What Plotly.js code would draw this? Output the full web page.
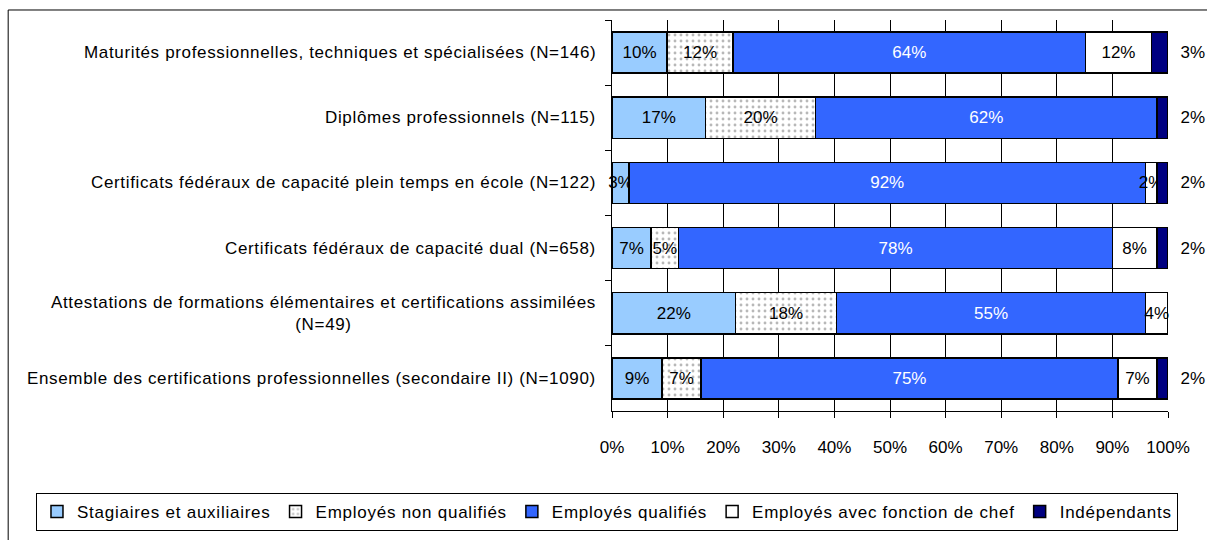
<!DOCTYPE html>
<html>
<head>
<meta charset="utf-8">
<script src="https://cdn.plot.ly/plotly-3.0.1.min.js"></script>
<style>
  html, body { margin: 0; padding: 0; background: #fff; }
  #chart { width: 1207px; height: 540px; }
  text.annotation-text { letter-spacing: 0.65px; }
  text.legendtext { letter-spacing: 0.75px; }
</style>
</head>
<body>
<div id="chart"></div>
<script>
const categories = [
  "Maturités professionnelles, techniques et spécialisées (N=146)",
  "Diplômes professionnels (N=115)",
  "Certificats fédéraux de capacité plein temps en école (N=122)",
  "Certificats fédéraux de capacité dual (N=658)",
  "Attestations de formations élémentaires et certifications assimilées<br>(N=49)",
  "Ensemble des certifications professionnelles (secondaire II) (N=1090)"
];
const seriesNames = [
  "Stagiaires et auxiliaires",
  "Employés non qualifiés",
  "Employés qualifiés",
  "Employés avec fonction de chef",
  "Indépendants"
];
const stagiaires   = [10, 17, 3, 7, 22, 9];
const nonQualifies = [12, 20, 0, 5, 18, 7];
const qualifies    = [64, 62, 92, 78, 55, 75];
const chef         = [12, 0, 2, 8, 4, 7];
const independants = [3, 2, 2, 2, 0, 2];
const xTickLabels  = ["0%","10%","20%","30%","40%","50%","60%","70%","80%","90%","100%"];
const xTickVals    = [0,10,20,30,40,50,60,70,80,90,100];

const FONT = "Liberation Sans, Arial, sans-serif";
const lbl = (v, pre) => v.map(x => x > 0 ? (pre || "") + x + "%" : "");
const line = {color: "#000", width: 1.5};

function barTrace(name, vals, color, textColor, extra) {
  return Object.assign({
    type: "bar", orientation: "h", name: name,
    x: vals, y: categories,
    text: lbl(vals), textposition: "inside", insidetextanchor: "middle",
    constraintext: "none", textangle: 0,
    textfont: {family: FONT, size: 17, color: textColor},
    marker: {color: color, line: line},
    hoverinfo: "x+name", cliponaxis: false
  }, extra || {});
}

const data = [
  barTrace(seriesNames[0], stagiaires, "#99CCFF", "#000"),
  barTrace(seriesNames[1], nonQualifies, "#FFFFFF", "#000", {
    marker: {color: "#FFFFFF", line: line,
      pattern: {shape: ".", fgcolor: "#b8b8b8", bgcolor: "#FFFFFF", size: 6, solidity: 0.18}}
  }),
  barTrace(seriesNames[2], qualifies, "#3366FF", "#FFFFFF"),
  barTrace(seriesNames[3], chef, "#FFFFFF", "#000"),
  barTrace(seriesNames[4], independants, "#000080", "#000", {
    text: lbl(independants, "\u00a0\u00a0"),
    textposition: "outside",
    outsidetextfont: {family: FONT, size: 17, color: "#000"}
  })
];

const annotations = categories.map(c => ({
  xref: "paper", yref: "y", x: 0, y: c, xanchor: "right", yanchor: "middle",
  xshift: -14, text: c, showarrow: false, align: "center",
  font: {family: FONT, size: 17, color: "#000"}
}));

const layout = {
  width: 1207, height: 540,
  margin: {l: 612, r: 39, t: 20, b: 129, pad: 0, autoexpand: false},
  paper_bgcolor: "#fff", plot_bgcolor: "#fff",
  font: {family: FONT, size: 17, color: "#000"},
  barmode: "stack", barnorm: "percent", bargap: 0.37,
  showlegend: true,
  xaxis: {
    range: [0, 100.0001], tickvals: xTickVals, ticktext: xTickLabels,
    showgrid: true, gridcolor: "#000", gridwidth: 1,
    showline: true, linecolor: "#000", linewidth: 1,
    ticks: "outside", ticklen: 6, tickcolor: "#000",
    ticklabelstandoff: 15,
    tickfont: {family: FONT, size: 17, color: "#000"},
    zeroline: false, fixedrange: true
  },
  yaxis: {
    autorange: "reversed", type: "category",
    showticklabels: false, showgrid: false,
    showline: true, linecolor: "#000", linewidth: 1,
    ticks: "outside", tickson: "boundaries", ticklen: 6, tickcolor: "#000",
    zeroline: false, fixedrange: true
  },
  legend: {
    orientation: "h", traceorder: "normal",
    x: -1.036, xanchor: "left", y: -0.2097, yanchor: "top",
    bordercolor: "#000", borderwidth: 1, bgcolor: "#fff",
    font: {family: FONT, size: 17, color: "#000"},
    itemwidth: 30
  },
  annotations: annotations,
  shapes: [{
    type: "rect", xref: "paper", yref: "paper",
    x0: -1.086, x1: 1.3, y0: -0.5, y1: 1.0256,
    line: {color: "#000", width: 1}, fillcolor: "rgba(0,0,0,0)", layer: "below"
  }]
};

Plotly.newPlot("chart", data, layout, {displayModeBar: false, staticPlot: true});
</script>
</body>
</html>
